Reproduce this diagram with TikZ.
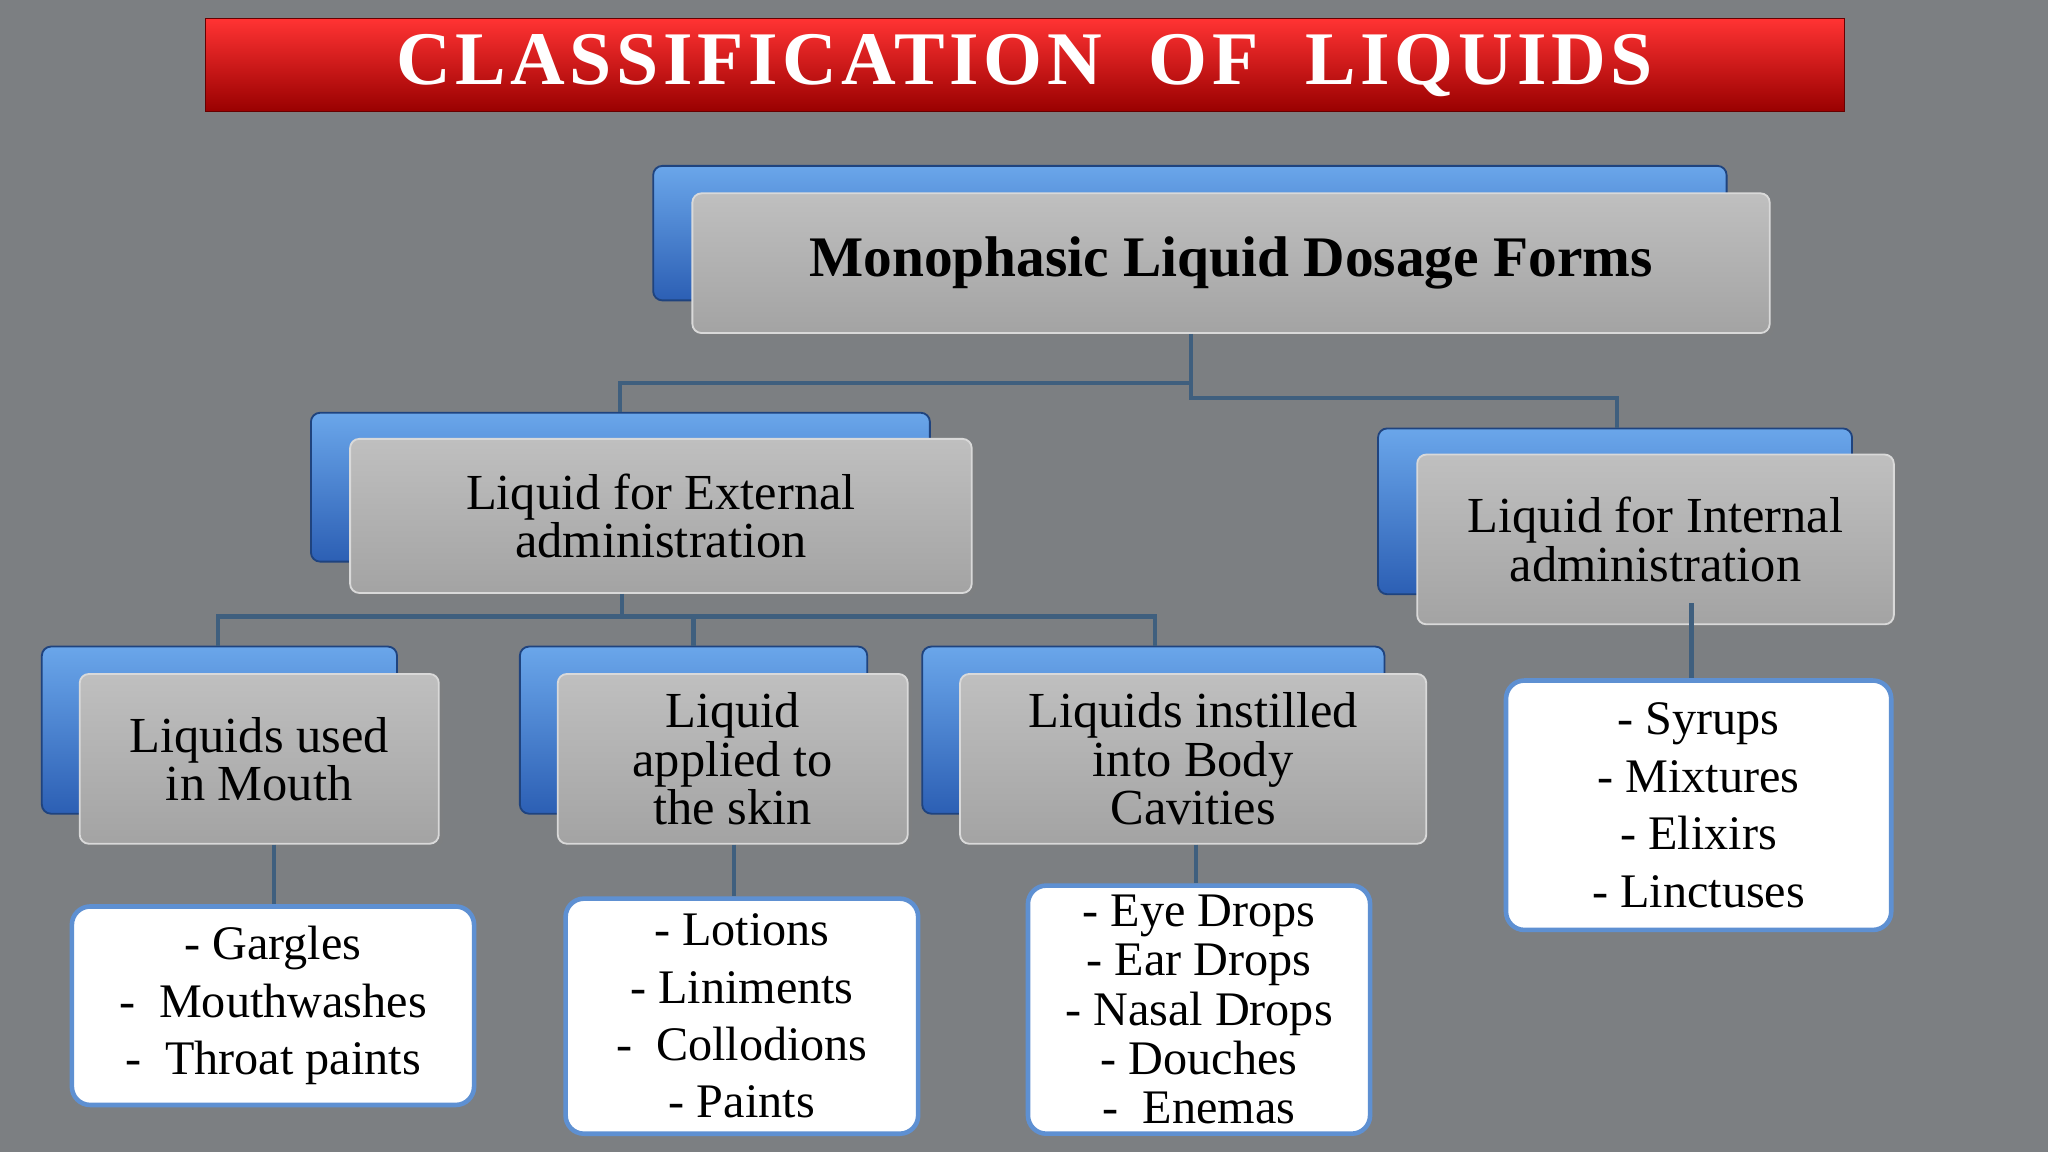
\documentclass[tikz,border=0pt]{standalone}
\usepackage{fontspec}
\setmainfont{Liberation Serif}
\newfontfamily\titlefont[LetterSpace=6]{Liberation Serif}
\usetikzlibrary{positioning, shadows}
\definecolor{bgcol}{HTML}{7C7F82}
\definecolor{barcol}{HTML}{3F5F7E}
\definecolor{listline}{HTML}{5E90D2}
\definecolor{blueup}{HTML}{6AA6EA}
\definecolor{bluedown}{HTML}{2C5FB4}
\tikzset{
  backbox/.style={draw=bluedown!70!black, line width=.8pt, rounded corners=4pt,
    top color=blueup, bottom color=bluedown, inner sep=0pt},
  frontbox/.style={draw=gray!30, line width=.8pt, rounded corners=4pt,
    top color=gray!50, bottom color=gray!72, align=center, inner sep=0pt,
    drop shadow={shadow xshift=.06cm, shadow yshift=-.06cm, opacity=.4},
    font=\fontsize{22}{21}\selectfont},
  listbox/.style={draw=listline, line width=2pt, rounded corners=8pt, fill=white,
    align=center, inner sep=0pt, font=\fontsize{21}{25}\selectfont},
  bus/.style={draw=barcol, line width=1.8pt},
}
\begin{document}
\begin{tikzpicture}[x=0.02cm, y=-0.02cm]
  \fill[bgcol] (0,0) rectangle (1568,882);
  \useasboundingbox (0,0) rectangle (1568,882);
  % title
  \node[draw=red!40!black, top color=red!80!white, bottom color=red!60!black,
        minimum width=25.1cm, minimum height=1.42cm,
        drop shadow={shadow xshift=.08cm, shadow yshift=-.08cm, opacity=.4},
        text=white, font=\fontsize{33}{33}\titlefont\bfseries] (title) at (784.5,50)
        {CLASSIFICATION\ \ OF\ \ LIQUIDS};
  % top level
  \node[backbox, minimum width=16.44cm, minimum height=2.06cm] (topb) at (911,178.5) {};
  \node[frontbox, minimum width=16.5cm, minimum height=2.14cm,
        font=\fontsize{25}{25}\selectfont\bfseries] (topf) at (942.5,201.5)
        {Monophasic Liquid Dosage Forms};
  % second level
  \node[backbox, minimum width=9.48cm, minimum height=2.28cm] (extb) at (475,373) {};
  \node[frontbox, minimum width=9.52cm, minimum height=2.36cm] (extf) at (506,395)
        {Liquid for External\\administration};
  \node[backbox, minimum width=7.26cm, minimum height=2.54cm] (intb) at (1236.5,391.5) {};
  \node[frontbox, minimum width=7.3cm, minimum height=2.6cm] (intf) at (1267.5,413)
        {Liquid for Internal\\administration};
  % third level
  \node[backbox, minimum width=5.44cm, minimum height=2.56cm] (mouthb) at (168,559) {};
  \node[frontbox, minimum width=5.5cm, minimum height=2.6cm] (mouthf) at (198.5,581)
        {Liquids used\\in Mouth};
  \node[backbox, minimum width=5.32cm, minimum height=2.56cm] (skinb) at (531,559) {};
  \node[frontbox, minimum width=5.36cm, minimum height=2.6cm] (skinf) at (561,581)
        {Liquid\\applied to\\the skin};
  \node[backbox, minimum width=7.08cm, minimum height=2.56cm] (cavb) at (883,559) {};
  \node[frontbox, minimum width=7.14cm, minimum height=2.6cm] (cavf) at (913.5,581)
        {Liquids instilled\\into Body\\Cavities};
  % lists
  \node[listbox, minimum width=6.16cm, minimum height=3.04cm] (mouthl) at (209,770)
        {- Gargles\\-\ \ Mouthwashes\\-\ \ Throat paints};
  \node[listbox, minimum width=5.4cm, minimum height=3.6cm] (skinl) at (568,778)
        {- Lotions\\- Liniments\\-\ \ Collodions\\- Paints};
  \node[listbox, minimum width=5.24cm, minimum height=3.8cm,
        font=\fontsize{21}{21.5}\selectfont] (cavl) at (918,773)
        {- Eye Drops\\- Ear Drops\\- Nasal Drops\\- Douches\\-\ \ Enemas};
  \node[listbox, minimum width=5.9cm, minimum height=3.82cm] (intl) at (1300.5,616.5)
        {- Syrups\\- Mixtures\\- Elixirs\\- Linctuses};
  % connectors
  \coordinate (jtop) at (912,293);
  \coordinate (jext) at (476,472);
  \draw[bus] (jtop |- topf.south) -- (jtop);
  \draw[bus] (jtop) -| (475,295) -- (extb.north -| 475,0);
  \draw[bus] (jtop) |- (1238,305) -- (intb.north -| 1238,0);
  \draw[bus] (jext |- extf.south) -- (jext);
  \draw[bus] (mouthb.north -| 167,0) |- (jext) -| (cavb.north -| 884,0);
  \draw[bus] (531,472) -- (skinb.north -| 531,0);
  \draw[bus] (mouthf.south -| 210,0) -- (mouthl.north -| 210,0);
  \draw[bus] (skinf.south -| 562,0) -- (skinl.north -| 562,0);
  \draw[bus] (cavf.south -| 916,0) -- (cavl.north -| 916,0);
  \draw[bus] (1295,462) -- (intl.north -| 1295,0);
\end{tikzpicture}
\end{document}
